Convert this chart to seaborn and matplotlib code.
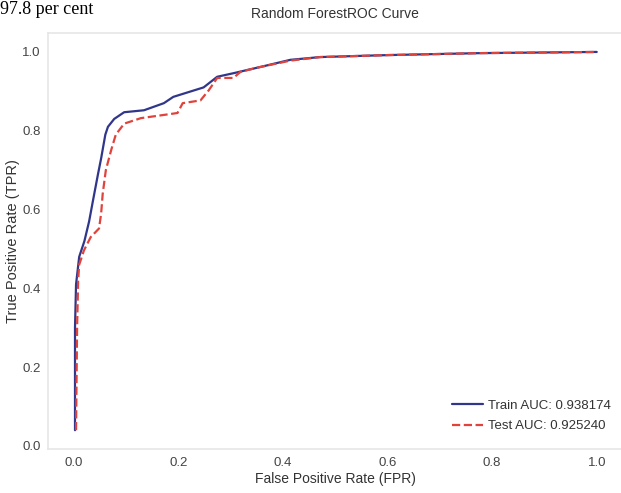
import numpy as np
import pandas as pd
import matplotlib
matplotlib.use("Agg")
import matplotlib.pyplot as plt
import seaborn as sns

# ROC points
train_fpr = [0.002, 0.002, 0.004, 0.010, 0.020, 0.029, 0.036, 0.046, 0.052, 0.060,
             0.065, 0.077, 0.096, 0.134, 0.172, 0.190, 0.248, 0.274, 0.305, 0.357,
             0.414, 0.471, 0.600, 0.777, 1.000]
train_tpr = [0.040, 0.300, 0.410, 0.480, 0.520, 0.570, 0.620, 0.690, 0.730, 0.790,
             0.810, 0.830, 0.847, 0.852, 0.870, 0.886, 0.910, 0.937, 0.946, 0.962,
             0.980, 0.987, 0.992, 0.997, 1.000]

test_fpr = [0.004, 0.006, 0.008, 0.010, 0.019, 0.032, 0.048, 0.052, 0.055, 0.061,
            0.071, 0.080, 0.096, 0.128, 0.198, 0.208, 0.242, 0.258, 0.274, 0.305,
            0.319, 0.357, 0.414, 0.471, 0.600, 0.777, 1.000]
test_tpr = [0.040, 0.300, 0.420, 0.460, 0.496, 0.530, 0.552, 0.590, 0.640, 0.700,
            0.750, 0.790, 0.818, 0.832, 0.845, 0.870, 0.877, 0.903, 0.934, 0.934,
            0.950, 0.962, 0.978, 0.987, 0.992, 0.997, 1.000]

train_auc = 0.938174
test_auc = 0.925240

sns.set_style("white")
plt.rcParams['font.family'] = ['Liberation Sans', 'DejaVu Sans']

fig = plt.figure(figsize=(6.21, 4.93), dpi=100)
ax = fig.add_axes([0.077, 0.089, 0.926, 0.844])

train_df = pd.DataFrame({'fpr': train_fpr, 'tpr': train_tpr})
test_df = pd.DataFrame({'fpr': test_fpr, 'tpr': test_tpr})

sns.lineplot(data=train_df, x='fpr', y='tpr', ax=ax, color='#30378a', lw=1.6,
             sort=False, estimator=None, label=f'Train AUC: {train_auc:.6f}')
sns.lineplot(data=test_df, x='fpr', y='tpr', ax=ax, color='#e0433c', lw=1.6,
             linestyle='--', sort=False, estimator=None,
             label=f'Test AUC: {test_auc:.6f}')

ax.set_xlim(-0.05, 1.05)
ax.set_ylim(-0.008, 1.048)
ax.set_xticks([0.0, 0.2, 0.4, 0.6, 0.8, 1.0])
ax.set_yticks([0.0, 0.2, 0.4, 0.6, 0.8, 1.0])
ax.tick_params(labelsize=9.5, colors='#444444', length=0, pad=6)
ax.tick_params(axis='y', pad=5)

for s in ax.spines.values():
    s.set_color('#e6e6e6')
    s.set_linewidth(1.2)

ax.set_title('Random ForestROC Curve', fontsize=10, color='#333333', pad=11)
ax.set_xlabel('False Positive Rate (FPR)', fontsize=10, color='#333333', labelpad=2)
ax.set_ylabel('True Positive Rate (TPR)', fontsize=10.5, color='#333333', labelpad=2)

leg = ax.legend(loc='lower right', frameon=False, fontsize=9.5, handlelength=2.3,
                handletextpad=0.4, labelspacing=0.6, bbox_to_anchor=(1.0, 0.012))
for t in leg.get_texts():
    t.set_color('#333333')

# line of the surrounding document text at the top edge
fig.text(0.0, 0.998, '97.8 per cent', family=['Liberation Serif', 'DejaVu Serif'],
         fontsize=13, va='top', ha='left', color='black')

fig.savefig('out.png', dpi=100)
plt.close(fig)
